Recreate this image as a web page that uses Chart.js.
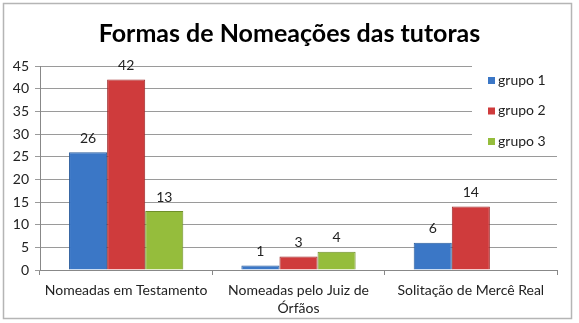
<!DOCTYPE html>
<html>
<head>
<meta charset="utf-8">
<script src="https://cdn.jsdelivr.net/npm/chart.js@4.4.1/dist/chart.umd.min.js"></script>
<style>
  html, body { margin: 0; padding: 0; background: #fff; }
  #wrap { width: 579px; height: 323px; position: relative; }
</style>
</head>
<body>
<div id="wrap"><canvas id="myChart" width="579" height="323"></canvas></div>
<script>
const categories = [['Nomeadas em Testamento'], ['Nomeadas pelo Juiz de', 'Órfãos'], ['Solitação de Mercê Real']];
const grupo1 = [26, 1, 6];
const grupo2 = [42, 3, 14];
const grupo3 = [13, 4, null];
const seriesNames = ['grupo 1', 'grupo 2', 'grupo 3'];
const yTicks = { min: 0, max: 45, step: 5 };

const FONT = 'Lato, "Open Sans", sans-serif';
const colors = ['#3b77c6', '#cf3b3c', '#95bd3c'];
const borders = ['#2a5c9c', '#9e2a2b', '#6f8f2a'];

// value labels above each bar
const valueLabels = {
    id: 'valueLabels',
    afterDatasetsDraw(chart) {
        const ctx = chart.ctx;
        ctx.save();
        ctx.font = '14px ' + FONT;
        ctx.fillStyle = '#222';
        ctx.textAlign = 'center';
        ctx.textBaseline = 'bottom';
        chart.data.datasets.forEach((ds, i) => {
            chart.getDatasetMeta(i).data.forEach((bar, j) => {
                if (ds.data[j] == null) return;
                ctx.fillText(ds.data[j], bar.x, bar.y - 7);
            });
        });
        ctx.restore();
    }
};

// Excel-like legend box sitting over the plot, plus outer frame
const boxLegend = {
    id: 'boxLegend',
    afterDraw(chart) {
        const ctx = chart.ctx;
        const area = chart.chartArea;
        ctx.save();
        ctx.fillStyle = '#fff';
        ctx.fillRect(472, 60, area.right - 472 + 1, 95);
        ctx.font = '14px ' + FONT;
        ctx.textBaseline = 'middle';
        chart.data.datasets.forEach((ds, i) => {
            const y = 80 + i * 30.5;
            ctx.fillStyle = ds.backgroundColor;
            ctx.fillRect(488, y - 3, 7, 7);
            ctx.fillStyle = '#222';
            ctx.fillText(ds.label, 498, y);
        });
        ctx.strokeStyle = '#b5b5b5';
        ctx.lineWidth = 1.5;
        ctx.strokeRect(3.5, 3.5, 568, 315);
        ctx.restore();
    }
};

new Chart(document.getElementById('myChart'), {
    type: 'bar',
    data: {
        labels: categories,
        datasets: [grupo1, grupo2, grupo3].map((d, i) => ({
            label: seriesNames[i],
            data: d,
            backgroundColor: colors[i],
            borderColor: borders[i],
            borderWidth: 1,
            barPercentage: 1,
            categoryPercentage: 0.663
        }))
    },
    options: {
        responsive: false,
        animation: false,
        layout: { padding: 0 },
        plugins: {
            legend: { display: false },
            tooltip: { enabled: false },
            title: {
                display: true,
                text: 'Formas de Nomeações das tutoras',
                color: '#000',
                font: { family: FONT, size: 25, weight: 'bold' },
                padding: { top: 19, bottom: 17 }
            }
        },
        scales: {
            x: {
                grid: { drawOnChartArea: false, drawTicks: true, tickLength: 5, color: '#888' },
                border: { color: '#888' },
                ticks: { color: '#222', font: { family: FONT, size: 14, lineHeight: 1.3 }, padding: 6, maxRotation: 0, autoSkip: false },
                afterFit(scale) { scale.height = 53; }
            },
            y: {
                min: yTicks.min,
                max: yTicks.max,
                grid: { color: '#9a9a9a', tickLength: 5 },
                border: { color: '#888' },
                ticks: { stepSize: yTicks.step, color: '#222', font: { family: FONT, size: 14 }, padding: 6 },
                afterFit(scale) { scale.width = 40; }
            },
            // empty right-hand spacer so the title stays centred on the frame
            yRight: {
                position: 'right',
                min: yTicks.min,
                max: yTicks.max,
                grid: { display: false },
                border: { display: false },
                ticks: { display: false },
                afterFit(scale) { scale.width = 22; }
            }
        }
    },
    plugins: [valueLabels, boxLegend]
});
</script>
</body>
</html>
